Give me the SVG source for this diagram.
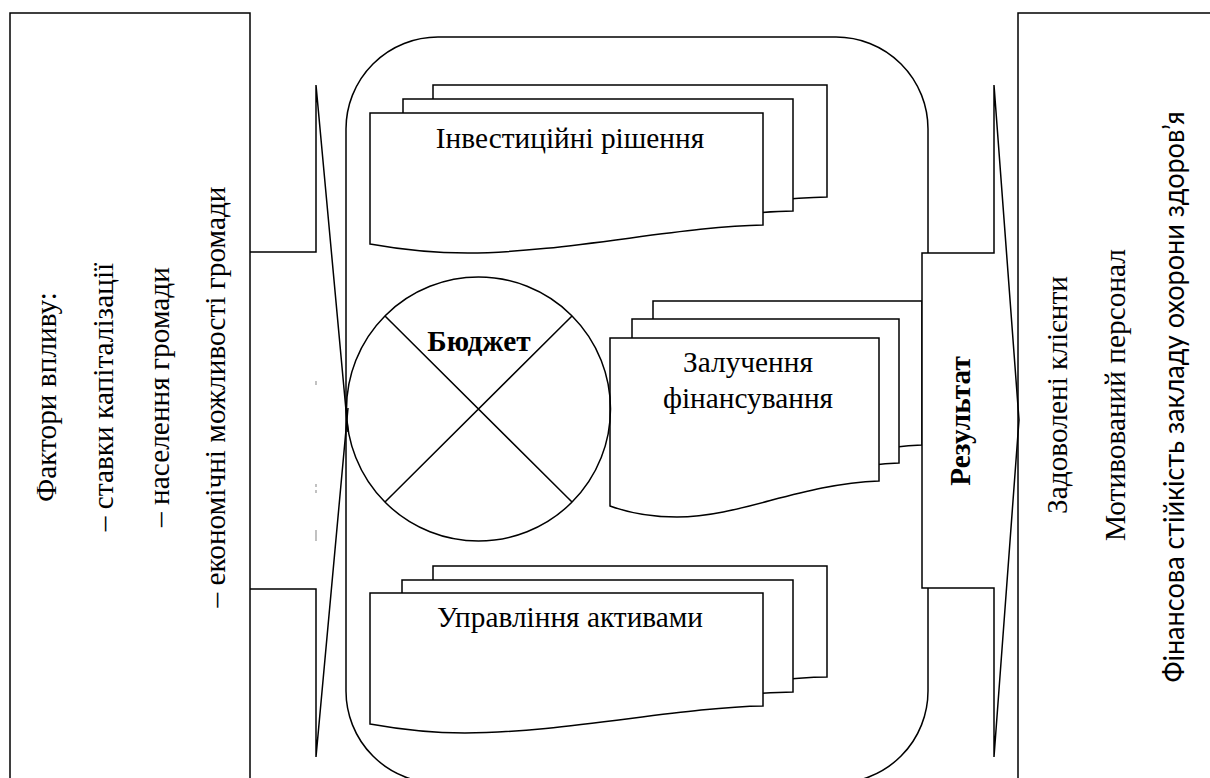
<svg xmlns="http://www.w3.org/2000/svg" width="1210" height="778" viewBox="0 0 1210 778">
<style>
.ln{fill:none;stroke:#000;stroke-width:1.5}
.doc{fill:#fff;stroke:#000;stroke-width:1.5}
.wf{fill:#fff;stroke:#000;stroke-width:1.5}
.t{font-family:"Times New Roman","Liberation Serif","DejaVu Serif",serif;font-size:29.33px;font-weight:normal;fill:#000}
.b{font-weight:bold}
.s{font-family:Lato,"Liberation Sans",sans-serif;font-size:29.33px;fill:#000}
.mark{stroke:#999;stroke-width:1.2}
</style>
<rect width="1210" height="778" fill="#fff"/>

<g id="factors">
  <rect class="ln" x="10" y="13" width="240" height="790"/>
  <text class="t" text-anchor="middle" transform="translate(56,397) rotate(-90)">Фактори впливу:</text>
  <text class="t" text-anchor="middle" transform="translate(113,397) rotate(-90)">– ставки капіталізації</text>
  <text class="t" text-anchor="middle" transform="translate(169,397) rotate(-90)">– населення громади</text>
  <text class="t" text-anchor="middle" transform="translate(225,397) rotate(-90)">– економічні можливості громади</text>
</g>

<g id="connectors">
  <path class="ln" d="M250,252 H316 V85 L348,432 M316,757 L348,408 M316,757 V589 H250"/>
  <path class="mark" d="M316,381 V385 M316,484 V487 M316,490 V493 M316,530 V541"/>
</g>

<g id="container">
  <rect class="ln" x="346" y="37" width="582" height="746" rx="92" ry="92"/>
</g>

<g id="investment">
  <path class="doc" d="M433,85 H827 V197 C747,198 624,225 532,225 Q484,225 433,216 Z"/>
  <path class="doc" d="M403,99 H793 V211 C713,212 590,239 498,239 Q450,239 403,230 Z"/>
  <path class="doc" d="M370,113 H763 V225 C683,226 560,253 468,253 Q420,253 370,244 Z"/>
  <text class="t" x="570" y="148" text-anchor="middle">Інвестиційні рішення</text>
</g>

<g id="financing">
  <path class="doc" d="M653,301 H922 V445 C843,448 783,481 720,481 Q683,481 653,470 Z"/>
  <path class="doc" d="M632,319 H899 V463 C820,466 760,499 699,499 Q662,499 632,488 Z"/>
  <path class="doc" d="M610,338 H879 V481 C800,484 740,517 677,517 Q640,517 610,506 Z"/>
  <text class="t" x="748" y="372" text-anchor="middle">Залучення</text>
  <text class="t" x="748" y="408" text-anchor="middle">фінансування</text>
</g>

<g id="assets">
  <path class="doc" d="M433,566 H827 V677 C747,678 625,704 530,704 Q485,704 433,695 Z"/>
  <path class="doc" d="M402,580 H793 V692 C713,693 592,718 497,718 Q452,718 402,709 Z"/>
  <path class="doc" d="M370,593 H763 V706 C683,707 560,733 465,733 Q420,733 370,724 Z"/>
  <text class="t" x="570" y="627" text-anchor="middle">Управління активами</text>
</g>

<g id="budget">
  <circle class="ln" cx="478.5" cy="409" r="132"/>
  <path class="ln" d="M385,316 L572,502 M572,316 L385,502"/>
  <text class="t b" x="479" y="351" text-anchor="middle">Бюджет</text>
</g>

<g id="result">
  <path class="wf" d="M922,253 H994 V85 L1019,420 L994,757 V588 H922 Z"/>
  <text class="t b" text-anchor="middle" transform="translate(970,421) rotate(-90)">Результат</text>
</g>

<g id="outcomes">
  <rect class="ln" x="1018" y="13" width="220" height="790"/>
  <text class="t" text-anchor="middle" transform="translate(1067,395) rotate(-90)">Задоволені клієнти</text>
  <text class="t" text-anchor="middle" transform="translate(1125,395) rotate(-90)">Мотивований персонал</text>
  <text class="s" text-anchor="middle" textLength="571" lengthAdjust="spacingAndGlyphs" transform="translate(1184,397) rotate(-90)">Фінансова стійкість закладу охорони здоров’я</text>
</g>
</svg>
